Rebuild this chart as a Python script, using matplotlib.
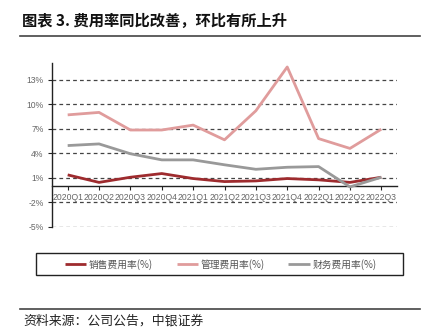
import matplotlib
matplotlib.use("Agg")
import matplotlib.pyplot as plt
from matplotlib.patches import Rectangle
from matplotlib.lines import Line2D

# datos
trimestres = ["2020Q1", "2020Q2", "2020Q3", "2020Q4", "2021Q1", "2021Q2",
              "2021Q3", "2021Q4", "2022Q1", "2022Q2", "2022Q3"]
ventas = [1.37, 0.45, 1.08, 1.53, 0.92, 0.55, 0.63, 0.92, 0.76, 0.45, 1.08]
gestion = [8.7, 9.0, 6.85, 6.85, 7.45, 5.65, 9.2, 14.55, 5.8, 4.6, 6.95]
finanzas = [4.95, 5.15, 3.95, 3.2, 3.2, 2.6, 2.05, 2.3, 2.38, -0.1, 1.08]
yticks = [-5, -2, 1, 4, 7, 10, 13]
nombres = ["销售费用率(%)", "管理费用率(%)", "财务费用率(%)"]
colores = ["#9E2B2E", "#E09C9C", "#999999"]

cjk = ["Noto Sans CJK SC", "DejaVu Sans"]
W, H = 428, 332

fig = plt.figure(figsize=(W / 100, H / 100), dpi=100)
ax = fig.add_axes([52 / W, 1 - 227 / H, (397 - 52) / W, (227 - 63.3) / H])

x = list(range(len(trimestres)))
ax.set_xlim(-0.5, len(trimestres) - 0.5)
ax.set_ylim(-5, 15)

for yv in yticks:
    ax.axhline(yv, color="#444444", lw=0.9, ls=(0, (3, 2.5)), zorder=1)

lineas = []
for serie, col in zip([ventas, gestion, finanzas], colores):
    l, = ax.plot(x, serie, color=col, lw=2.0, zorder=3, solid_capstyle="butt")
    lineas.append(l)

ax.spines["top"].set_visible(False)
ax.spines["right"].set_visible(False)
ax.spines["bottom"].set_position(("data", 0))
ax.spines["left"].set_color("#222222")
ax.spines["bottom"].set_color("#222222")
ax.spines["left"].set_linewidth(1.0)
ax.spines["bottom"].set_linewidth(1.0)

ax.set_xticks(x)
ax.set_xticklabels(trimestres, fontfamily="Liberation Sans", fontsize=6.2, color="#666666")
ax.set_yticks(yticks)
ax.set_yticklabels([f"{v}%" for v in yticks], fontfamily="Liberation Sans", fontsize=6.2, color="#666666")
ax.tick_params(axis="x", length=3, pad=2, color="#222222")
ax.tick_params(axis="y", length=3, pad=3, color="#222222")

# titulo y linea
fig.text(22 / W, 1 - 21 / H, "图表 3. 费用率同比改善，环比有所上升", family=cjk,
         fontsize=11, fontweight="bold", ha="left", va="center", color="#111111")
fig.add_artist(Line2D([20 / W, 420 / W], [1 - 36 / H, 1 - 36 / H], color="#444444", lw=1.2))

# leyenda con marco propio
fig.add_artist(Rectangle((36 / W, 1 - 275.3 / H), 367 / W, 22 / H, fill=False,
                         edgecolor="#222222", lw=1.0))
fig.legend(lineas, nombres, loc="center left", bbox_to_anchor=(56 / W, 1 - 264.3 / H),
           ncol=3, frameon=False, handlelength=2.2, handletextpad=0.3,
           columnspacing=2.4, prop={"family": cjk, "size": 7}, labelcolor="#555555")

# fuente
fig.add_artist(Line2D([20 / W, 420 / W], [1 - 309 / H, 1 - 309 / H], color="#444444", lw=1.2))
fig.text(23 / W, 1 - 321.5 / H, "资料来源：公司公告，中银证券", family=cjk,
         fontsize=9.3, style="italic", ha="left", va="center", color="#222222")

fig.savefig("out.png", dpi=100)
